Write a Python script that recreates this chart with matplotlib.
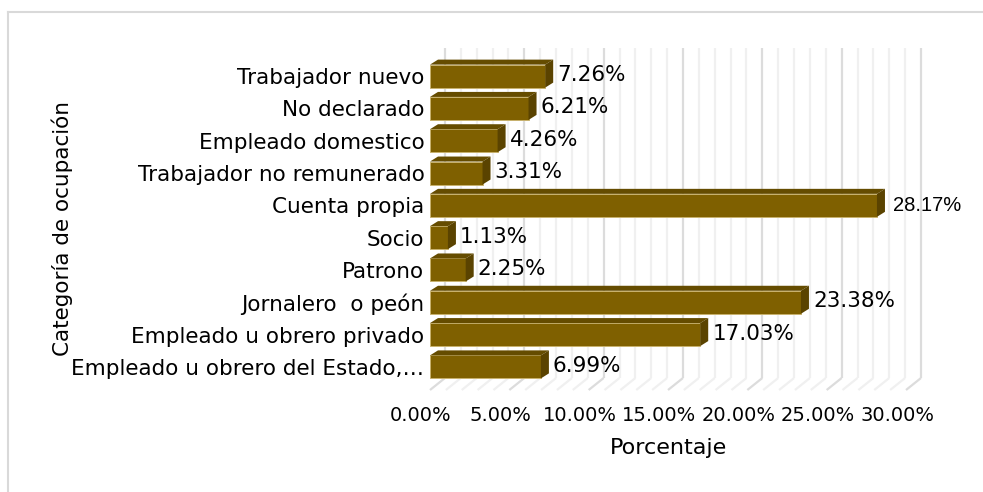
import matplotlib.pyplot as plt
from matplotlib.patches import Polygon
from matplotlib.lines import Line2D
from matplotlib.transforms import ScaledTranslation

# categories from bottom to top
categorias = ['Empleado u obrero del Estado,…', 'Empleado u obrero privado',
              'Jornalero  o peón', 'Patrono', 'Socio', 'Cuenta propia',
              'Trabajador no remunerado', 'Empleado domestico',
              'No declarado', 'Trabajador nuevo']
porcentajes = [6.99, 17.03, 23.38, 2.25, 1.13, 28.17, 3.31, 4.26, 6.21, 7.26]
ticks = [0, 5, 10, 15, 20, 25, 30]
tick_labels = ['%.2f%%' % t for t in ticks]

W, H, DPI = 983, 492, 100
fig = plt.figure(figsize=(W / DPI, H / DPI), dpi=DPI)

# light border of the chart area (only left and top edges are visible)
bx, by = 7.5 / W, 1 - 12 / H
fig.lines.append(Line2D([bx, bx], [0, by], transform=fig.transFigure,
                        color='#D9D9D9', lw=1.5))
fig.lines.append(Line2D([bx, 1], [by, by], transform=fig.transFigure,
                        color='#D9D9D9', lw=1.5))

ax_l, ax_r, ax_t, ax_b = 430, 906, 48, 395
ax = fig.add_axes([ax_l / W, 1 - ax_b / H, (ax_r - ax_l) / W, (ax_b - ax_t) / H])
ylo, yhi = -0.87, 9.87
ax.set_xlim(0, 30)
ax.set_ylim(ylo, yhi)
for s in ax.spines.values():
    s.set_visible(False)

# data units per pixel
px_x = 30 / (ax_r - ax_l)
px_y = (yhi - ylo) / (ax_b - ax_t)

# back wall and floor gridlines (3D look)
wall_dx = 15 * px_x
floor_back = ylo + 17 * px_y
floor_front = ylo + 5 * px_y
for g in range(0, 31):
    c = '#DCDCDC' if g % 5 == 0 else '#F0F0F0'
    ax.plot([g + wall_dx, g + wall_dx], [floor_back, yhi], color=c, lw=1.6,
            zorder=1, clip_on=False, solid_capstyle='butt')
    ax.plot([g + wall_dx, g], [floor_back, floor_front], color=c, lw=1.6,
            zorder=1, clip_on=False, solid_capstyle='butt')

# bars
bar_h = 23 * px_y
dx, dy = 8 * px_x, 5 * px_y
front_col, top_col, side_col = '#7F6000', '#654C00', '#5A4300'
ypos = list(range(len(categorias)))
ax.barh(ypos, porcentajes, height=bar_h, color=front_col,
        edgecolor='#C8B26E', lw=0.7, zorder=3)
for y, v in zip(ypos, porcentajes):
    yt, yb = y + bar_h / 2, y - bar_h / 2
    ax.add_patch(Polygon([(0, yt), (v, yt), (v + dx, yt + dy), (dx, yt + dy)],
                         closed=True, facecolor=top_col, edgecolor='none', zorder=3))
    ax.add_patch(Polygon([(v, yb), (v, yt), (v + dx, yt + dy), (v + dx, yb + dy)],
                         closed=True, facecolor=side_col, edgecolor='none', zorder=3))
    if v == max(porcentajes):
        ax.annotate('%.2f%%' % v, (v, y), xytext=(16, 0), textcoords='offset pixels',
                    ha='left', va='center', fontsize=14.5, family='Liberation Sans',
                    color='#000000', zorder=4)
    else:
        ax.annotate('%.2f%%' % v, (v, y), xytext=(12, 1), textcoords='offset pixels',
                    ha='left', va='center', fontsize=15.5, color='#000000', zorder=4)

# axes text
ax.set_yticks(ypos, categorias, fontsize=15.5)
ax.set_xticks(ticks, tick_labels, fontsize=14)
ax.tick_params(axis='both', length=0)
ax.tick_params(axis='y', pad=4)
ax.tick_params(axis='x', pad=8)
for lbl in ax.get_xticklabels():
    lbl.set_transform(lbl.get_transform() + ScaledTranslation(-9 / DPI, 0, fig.dpi_scale_trans))
ax.set_xlabel('Porcentaje', fontsize=16, labelpad=9)
fig.text(62 / W, 1 - 228 / H, 'Categoría de ocupación', rotation=90,
         ha='center', va='center', fontsize=15.5)

fig.savefig('out.png', dpi=DPI)
